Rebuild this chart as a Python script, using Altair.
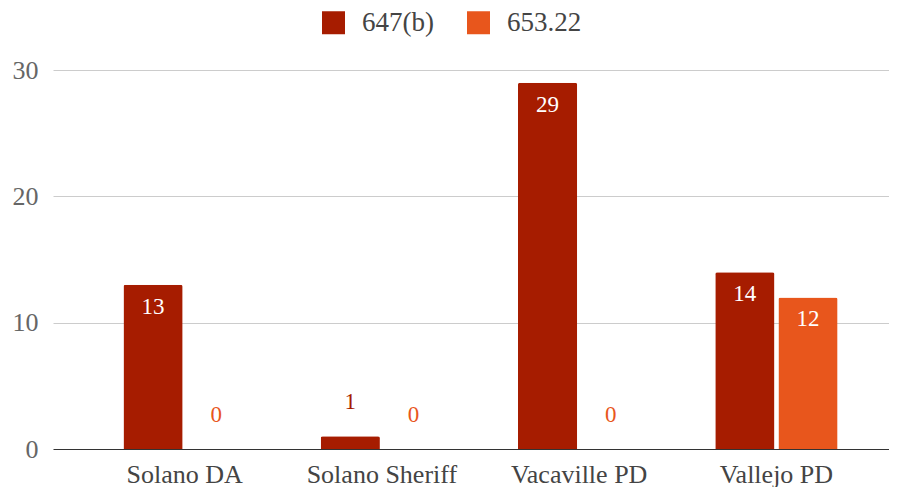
import altair as alt
import pandas as pd

categories = ["Solano DA", "Solano Sheriff", "Vacaville PD", "Vallejo PD"]
series_names = ["647(b)", "653.22"]
values_647b = [13, 1, 29, 14]
values_65322 = [0, 0, 0, 12]
colors = ["#a61c00", "#e8561c"]

rows = []
for c, v in zip(categories, values_647b):
    rows.append({"category": c, "series": series_names[0], "value": v})
for c, v in zip(categories, values_65322):
    rows.append({"category": c, "series": series_names[1], "value": v})
df = pd.DataFrame(rows)

FONT = "Liberation Serif"

x = alt.X("category:N", sort=categories,
          scale=alt.Scale(paddingInner=0.38, paddingOuter=0.309, align=0.578),
          axis=alt.Axis(title=None, domain=False, ticks=False, labelAngle=0,
                        labelFont=FONT, labelFontSize=26, labelColor="#444444",
                        labelPadding=12))
xoff = alt.XOffset("series:N", sort=series_names,
                   scale=alt.Scale(paddingInner=0.063, paddingOuter=0))
y = alt.Y("value:Q", scale=alt.Scale(domain=[0, 30], nice=False),
          axis=alt.Axis(title=None, values=[0, 10, 20, 30], domain=False, ticks=False,
                        labelFont=FONT, labelFontSize=26, labelColor="#666666",
                        labelPadding=15,
                        gridColor=alt.condition("datum.value === 0", alt.value("#333333"), alt.value("#cccccc")),
                        gridWidth=1))
color_scale = alt.Scale(domain=series_names, range=colors)

bars = alt.Chart(df).mark_bar(cornerRadiusTopLeft=2, cornerRadiusTopRight=2).encode(
    x=x, xOffset=xoff, y=y,
    color=alt.Color("series:N", scale=color_scale,
                    legend=alt.Legend(title=None, orient="none", legendX=267, legendY=-61,
                                      direction="horizontal", symbolType="square",
                                      symbolSize=529, symbolStrokeWidth=0,
                                      labelFont=FONT, labelFontSize=27, labelColor="#444444",
                                      labelOffset=15, columnPadding=31, padding=0))
)

inside = alt.Chart(df).transform_filter("datum.value >= 5").mark_text(
    font=FONT, fontSize=23, color="white", baseline="middle", dy=22
).encode(x=x, xOffset=xoff, y=y, text="value:Q")

outside = alt.Chart(df).transform_filter("datum.value < 5").mark_text(
    font=FONT, fontSize=23, baseline="middle", dy=-34
).encode(x=x, xOffset=xoff, y=y, text="value:Q",
         color=alt.Color("series:N", scale=color_scale, legend=None))

chart = alt.layer(bars, inside, outside).properties(
    width=836, height=379,
    autosize=alt.AutoSizeParams(type="none"),
    padding={"left": 45, "top": 62, "right": 0, "bottom": 38},
).configure_view(stroke=None)

chart.save("out.html", embed_options={"renderer": "svg", "actions": False})
